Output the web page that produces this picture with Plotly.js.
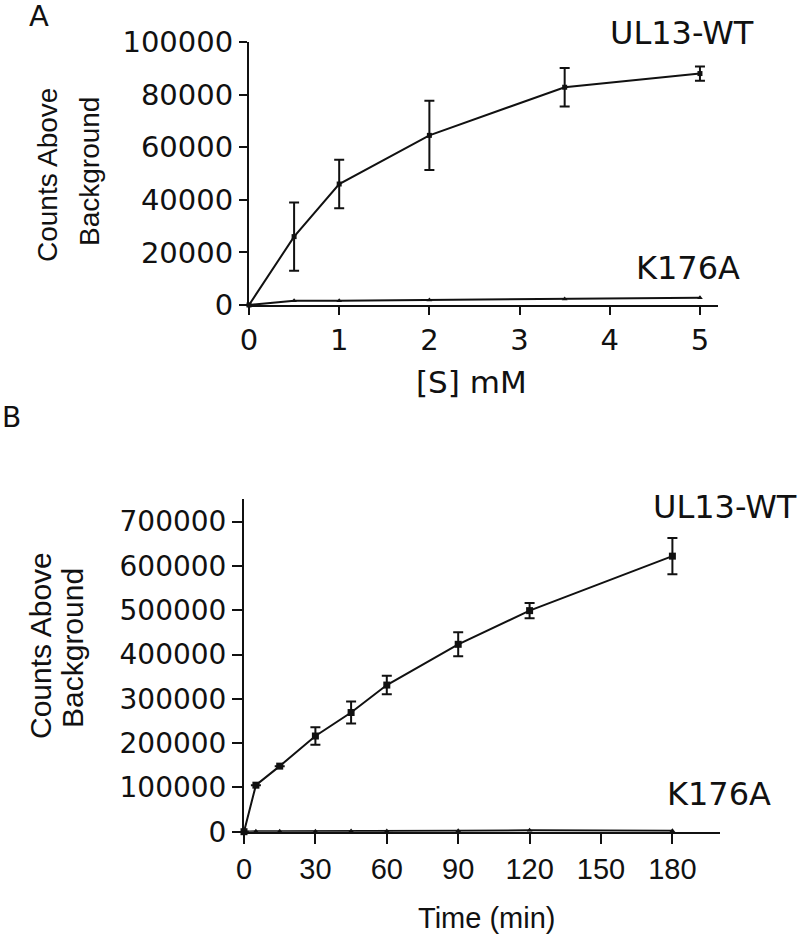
<!DOCTYPE html>
<html>
<head>
<meta charset="utf-8">
<script src="https://cdn.plot.ly/plotly-3.0.1.min.js"></script>
<style>html,body{margin:0;padding:0;background:#fff;}#chart{width:800px;height:939px;}</style>
</head>
<body>
<div id="chart"></div>
<script>
// Panel A: substrate concentration series
const concA = [0, 0.5, 1, 2, 3.5, 5];
const wtA = [0, 26000, 46000, 64500, 82800, 88000];
const wtAErr = [0, 13000, 9200, 13200, 7300, 2700];
const mutA = [0, 1600, 1650, 1900, 2300, 2800];

// Panel B: time course series
const timeB = [0, 5, 15, 30, 45, 60, 90, 120, 180];
const wtB = [0, 105000, 148000, 216000, 269000, 331000, 423000, 499000, 622000];
const wtBErr = [0, 0, 0, 20000, 25000, 21000, 27000, 17000, 41000];
const mutB = [0, 1000, 1000, 1000, 1500, 1500, 2000, 3000, 2000];

const ticksA_x = [0, 1, 2, 3, 4, 5];
const ticksA_y = [0, 20000, 40000, 60000, 80000, 100000];
const ticksB_x = [0, 30, 60, 90, 120, 150, 180];
const ticksB_y = [0, 100000, 200000, 300000, 400000, 500000, 600000, 700000];

const W = 800, H = 939;
const px = x => x / W;
const py = y => 1 - y / H;
const NARROW = '"Liberation Sans", Arial, Helvetica, sans-serif';
const WIDE = '"DejaVu Sans", "Liberation Sans", Arial, sans-serif';
const INK = '#111';

const lineStyle = {color: INK, width: 2};
const traces = [
  {x: concA, y: wtA, xaxis: 'x', yaxis: 'y', type: 'scatter', mode: 'lines+markers',
   line: lineStyle, marker: {symbol: 'square', size: 5, color: INK},
   error_y: {type: 'data', array: wtAErr, visible: true, color: INK, thickness: 2, width: 5},
   cliponaxis: false, showlegend: false},
  {x: concA, y: mutA, xaxis: 'x', yaxis: 'y', type: 'scatter', mode: 'lines+markers',
   line: lineStyle, marker: {symbol: 'triangle-up', size: 5, color: INK},
   cliponaxis: false, showlegend: false},
  {x: timeB, y: wtB, xaxis: 'x2', yaxis: 'y2', type: 'scatter', mode: 'lines+markers',
   line: lineStyle, marker: {symbol: 'square', size: 7, color: INK},
   error_y: {type: 'data', array: wtBErr, visible: true, color: INK, thickness: 2, width: 5},
   cliponaxis: false, showlegend: false},
  {x: timeB, y: mutB, xaxis: 'x2', yaxis: 'y2', type: 'scatter', mode: 'lines+markers',
   line: lineStyle, marker: {symbol: 'triangle-up', size: 5, color: INK},
   cliponaxis: false, showlegend: false}
];

const axisBase = {
  showgrid: false, zeroline: false, showline: true, linecolor: INK, linewidth: 2,
  ticks: 'outside', tickcolor: INK, tickwidth: 2, ticklen: 8, fixedrange: true
};

const layout = {
  width: W, height: H,
  margin: {l: 0, r: 0, t: 0, b: 0},
  paper_bgcolor: '#fff', plot_bgcolor: '#fff',
  font: {family: NARROW, color: INK},
  showlegend: false,
  xaxis: Object.assign({}, axisBase, {
    domain: [px(249), px(718)], range: [0, 5.2], anchor: 'y',
    tickvals: ticksA_x, ticktext: ticksA_x.map(String),
    tickfont: {family: WIDE, size: 29, color: INK}
  }),
  yaxis: Object.assign({}, axisBase, {
    domain: [py(305), py(42)], range: [0, 100000], anchor: 'x',
    tickvals: ticksA_y, ticktext: ticksA_y.map(String),
    tickfont: {family: WIDE, size: 29, color: INK}
  }),
  xaxis2: Object.assign({}, axisBase, {
    domain: [px(244), px(720)], range: [0, 200], anchor: 'y2', ticklen: 10,
    tickvals: ticksB_x, ticktext: ticksB_x.map(String),
    tickfont: {family: NARROW, size: 29, color: INK}
  }),
  yaxis2: Object.assign({}, axisBase, {
    domain: [py(831.7), py(499)], range: [0, 751000], anchor: 'x2', ticklen: 10,
    tickvals: ticksB_y, ticktext: ticksB_y.map(String),
    tickfont: {family: WIDE, size: 28, color: INK}
  }),
  annotations: [
    {text: 'A', x: px(39), y: py(16), size: 29, f: WIDE},
    {text: 'B', x: px(11), y: py(418), size: 28, f: WIDE},
    {text: 'UL13-WT', x: px(682), y: py(33), size: 32, f: WIDE},
    {text: 'K176A', x: px(688), y: py(268), size: 32, f: WIDE},
    {text: 'UL13-WT', x: px(725), y: py(507), size: 32, f: WIDE},
    {text: 'K176A', x: px(719), y: py(794), size: 32, f: WIDE},
    {text: '[S] mM', x: px(471), y: py(382), size: 31, f: WIDE},
    {text: 'Time (min)', x: px(486), y: py(918), size: 29, f: NARROW},
    {text: 'Counts Above', x: px(47), y: py(175), size: 28, f: NARROW, textangle: -90},
    {text: 'Background', x: px(90), y: py(172), size: 28, f: NARROW, textangle: -90},
    {text: 'Counts Above', x: px(40), y: py(646), size: 30, f: NARROW, textangle: -90},
    {text: 'Background', x: px(72), y: py(648), size: 30, f: NARROW, textangle: -90}
  ].map(a => ({
    text: a.text, x: a.x, y: a.y, xref: 'paper', yref: 'paper',
    xanchor: 'center', yanchor: 'middle', showarrow: false,
    textangle: a.textangle || 0,
    font: {family: a.f, size: a.size, color: INK}
  }))
};

Plotly.newPlot('chart', traces, layout, {staticPlot: true, displayModeBar: false});
</script>
</body>
</html>
